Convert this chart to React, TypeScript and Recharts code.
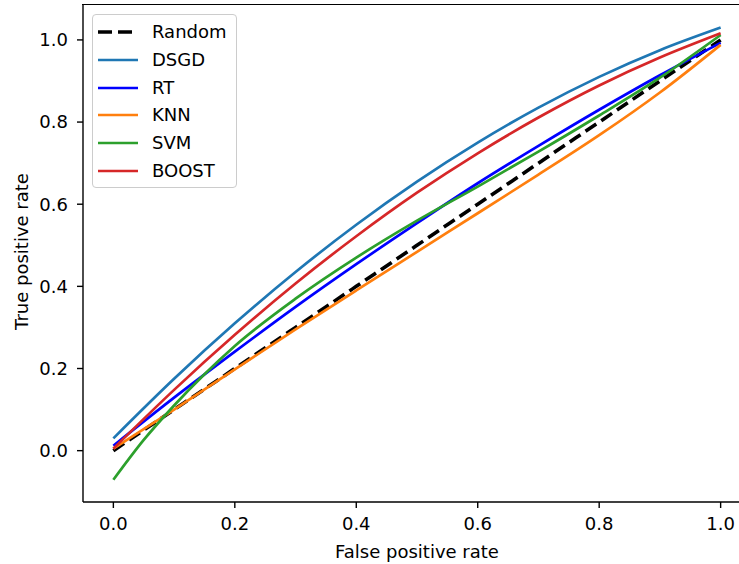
import React from 'react';
import { LineChart, Line, XAxis, YAxis, Legend } from 'recharts';

// ---- data ----
const fpr = [0, 0.1, 0.2, 0.3, 0.4, 0.5, 0.6, 0.7, 0.8, 0.9, 1.0];
const randomTpr = [0, 0.1, 0.2, 0.3, 0.4, 0.5, 0.6, 0.7, 0.8, 0.9, 1.0];
const dsgdTpr = [0.03, 0.175, 0.31, 0.435, 0.55, 0.655, 0.75, 0.835, 0.91, 0.975, 1.03];
const rtTpr = [0.012, 0.129, 0.241, 0.35, 0.454, 0.554, 0.651, 0.742, 0.83, 0.914, 0.993];
const knnTpr = [0.005, 0.1, 0.198, 0.295, 0.39, 0.484, 0.578, 0.672, 0.768, 0.872, 0.988];
const boostTpr = [0.005, 0.148, 0.282, 0.407, 0.522, 0.628, 0.724, 0.811, 0.889, 0.957, 1.016];
const svmFpr = [0, 0.05, 0.1, 0.15, 0.2, 0.3, 0.4, 0.5, 0.6, 0.7, 0.8, 0.9, 1.0];
const svmTpr = [-0.071, 0.026, 0.11, 0.186, 0.255, 0.37, 0.47, 0.56, 0.643, 0.728, 0.816, 0.908, 1.012];

const xTicks = [0, 0.2, 0.4, 0.6, 0.8, 1.0];
const yTicks = [0, 0.2, 0.4, 0.6, 0.8, 1.0];
const xLabel = 'False positive rate';
const yLabel = 'True positive rate';

const FONT = '"DejaVu Sans", Verdana, sans-serif';
const X_DOMAIN: [number, number] = [-0.05, 1.05];
const Y_DOMAIN: [number, number] = [-0.125, 1.085];

const toPoints = (xs: number[], ys: number[]) => xs.map((x, i) => ({ x, y: ys[i] }));

const series = [
  { name: 'Random', color: '#000000', dashed: true, data: toPoints(fpr, randomTpr) },
  { name: 'DSGD', color: '#1f77b4', dashed: false, data: toPoints(fpr, dsgdTpr) },
  { name: 'RT', color: '#0000ff', dashed: false, data: toPoints(fpr, rtTpr) },
  { name: 'KNN', color: '#ff7f0e', dashed: false, data: toPoints(fpr, knnTpr) },
  { name: 'SVM', color: '#2ca02c', dashed: false, data: toPoints(svmFpr, svmTpr) },
  { name: 'BOOST', color: '#d62728', dashed: false, data: toPoints(fpr, boostTpr) },
];

const renderLegend = () => (
  <div
    style={{
      boxSizing: 'border-box',
      width: 145,
      height: 174,
      border: '1px solid #cccccc',
      borderRadius: 4,
      background: 'rgba(255,255,255,0.8)',
      position: 'relative',
      fontFamily: FONT,
      fontSize: 18,
      color: '#000',
    }}
  >
    {series.map((s, i) => (
      <div key={s.name} style={{ position: 'absolute', left: 0, top: 2.7 + i * 27.9, height: 28, width: 143 }}>
        <svg width={44} height={28} style={{ position: 'absolute', left: 4, top: 0 }}>
          <line
            x1={1}
            x2={41}
            y1={14}
            y2={14}
            stroke={s.color}
            strokeWidth={s.dashed ? 3.6 : 2.7}
            strokeDasharray={s.dashed ? '14 6' : undefined}
          />
        </svg>
        <span style={{ position: 'absolute', left: 59, top: 0, lineHeight: '28px', whiteSpace: 'nowrap' }}>{s.name}</span>
      </div>
    ))}
  </div>
);

const tickStyle = { fill: '#000', fontSize: 18, fontFamily: FONT };
const axisLineStyle = { stroke: '#000', strokeWidth: 1.4 };

export default function App() {
  return (
    <div style={{ position: 'absolute', left: 0, top: 0, width: 739, height: 564, overflow: 'hidden', background: '#fff' }}>
      <LineChart width={760} height={564} margin={{ top: 5, right: 9, bottom: 0, left: 0 }}>
        <XAxis
          xAxisId="x"
          dataKey="x"
          type="number"
          domain={X_DOMAIN}
          ticks={xTicks}
          allowDataOverflow
          height={62}
          tickSize={6}
          tickMargin={9}
          tick={tickStyle}
          tickLine={axisLineStyle}
          axisLine={axisLineStyle}
          tickFormatter={(v: number) => v.toFixed(1)}
          label={{
            content: (props: any) => {
              const vb = props.viewBox || { x: 83, y: 502, width: 668, height: 62 };
              return (
                <text x={vb.x + vb.width / 2} y={vb.y + 56} textAnchor="middle" fontSize={18} fontFamily={FONT} fill="#000">
                  {xLabel}
                </text>
              );
            },
          }}
        />
        <YAxis
          yAxisId="y"
          type="number"
          domain={Y_DOMAIN}
          ticks={yTicks}
          allowDataOverflow
          width={83}
          tickSize={6}
          tickMargin={9}
          tick={tickStyle}
          tickLine={axisLineStyle}
          axisLine={axisLineStyle}
          tickFormatter={(v: number) => v.toFixed(1)}
          label={{
            content: (props: any) => {
              const vb = props.viewBox || { x: 0, y: 5, width: 83, height: 497 };
              const cy = vb.y + vb.height / 2 - 2;
              const cx = 28.3;
              return (
                <text x={cx} y={cy} transform={`rotate(-90, ${cx}, ${cy})`} textAnchor="middle" fontSize={18} fontFamily={FONT} fill="#000">
                  {yLabel}
                </text>
              );
            },
          }}
        />
        {series.map((s) => (
          <Line
            key={s.name}
            xAxisId="x"
            yAxisId="y"
            data={s.data}
            dataKey="y"
            name={s.name}
            type="monotone"
            stroke={s.color}
            strokeWidth={s.dashed ? 3.6 : 2.7}
            strokeDasharray={s.dashed ? '13 6' : undefined}
            dot={false}
            activeDot={false}
            isAnimationActive={false}
          />
        ))}
        <Legend
          layout="vertical"
          align="center"
          verticalAlign="middle"
          content={renderLegend}
          wrapperStyle={{ left: 92, top: 14, width: 145, height: 174 }}
        />
      </LineChart>
      {/* top spine of the axes frame */}
      <div style={{ position: 'absolute', left: 82, top: 4, width: 680, height: 0, borderTop: '1.5px solid #000' }} />
    </div>
  );
}
